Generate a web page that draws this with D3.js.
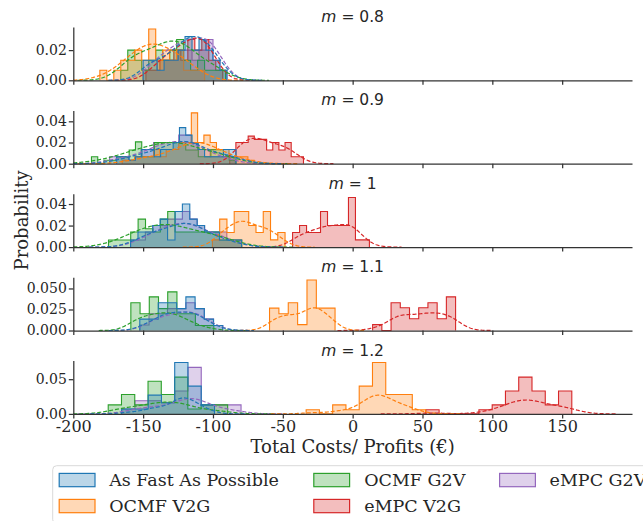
<!DOCTYPE html>
<html>
<head>
<meta charset="utf-8">
<script src="https://cdn.jsdelivr.net/npm/d3@7"></script>
<style>
  body { margin: 0; background: #fff; }
  svg { display: block; }
  text { fill: #262626; }
</style>
</head>
<body>
<div id="chart"></div>
<script>
// ---- data ----
const panelLabels = ["0.8", "0.9", "1", "1.1", "1.2"];
const seriesNames = ["As Fast As Possible", "OCMF V2G", "OCMF G2V", "eMPC V2G", "eMPC G2V"];
const seriesColors = ["#1f77b4", "#ff7f0e", "#2ca02c", "#d62728", "#9467bd"];
const xTicks = [-200, -150, -100, -50, 0, 50, 100, 150];
const yMaxes = [0.0353, 0.0503, 0.0495, 0.0634, 0.0768];
const yTicks = [[0, 0.02], [0, 0.02, 0.04], [0, 0.02, 0.04], [0, 0.025, 0.05], [0, 0.05]];
const yFormats = [".2f", ".2f", ".2f", ".3f", ".2f"];

// histogram bins per panel, series order as seriesNames: [first edge, bin width]
const binStarts = [
  [-150, -181, -166, -148, -150],
  [-169, -165, -187, -88, -174],
  [-159, -100.4, -174.8, -43, -159],
  [-152.4, -59.5, -158.8, 14.3, -152.4],
  [-165.4, -33.3, -175, 52.4, -165.4]
];
const binWidths = [
  [5, 5, 5, 5, 5],
  [4.5, 4.5, 4.5, 4.4, 4.5],
  [5.3, 5.2, 5.3, 5, 5.3],
  [6.6, 6.7, 6.6, 6.6, 6.6],
  [9.5, 9.5, 9.5, 9.5, 9.5]
];
const heightsM08 = [
  [0.0133, 0.0133, 0.0067, 0.0133, 0.0133, 0.02, 0.029, 0.02, 0.027, 0.02, 0.0133, 0.0067],
  [0.0067, 0, 0.0067, 0.0133, 0.0133, 0.02, 0.0133, 0.034, 0.0133, 0.02, 0.0133, 0.02, 0.0067, 0.0067, 0.0067],
  [0.0067, 0.02, 0.0133, 0.0067, 0.0133, 0.02, 0.0133, 0.02, 0.027, 0.0133, 0.0067, 0.0133, 0.0067, 0.0067, 0.0067],
  [0.0067, 0.0067, 0.0133, 0.0133, 0.02, 0.0133, 0.027, 0.02, 0.027, 0.0133, 0.0067],
  [0.0067, 0.0067, 0.0133, 0.0133, 0.0133, 0.02, 0.02, 0.0133, 0.02, 0.027, 0.0133, 0.0067]
];
const heightsM09 = [
  [0.0066, 0.0066, 0.0033, 0.0066, 0.0134, 0.0134, 0.0066, 0.0134, 0.0134, 0.02, 0.034, 0.027, 0.019, 0.0134, 0.0066, 0.0066, 0.0066, 0.0134, 0.0134],
  [0.0033, 0.0033, 0.0066, 0.0066, 0.0066, 0.0134, 0.0066, 0.0134, 0.0134, 0.02, 0.02, 0.048, 0.02, 0.027, 0.02, 0.0134, 0.0134, 0.0066, 0.0066, 0.0066, 0.0033],
  [0.0066, 0, 0.0033, 0.0033, 0.0066, 0.0066, 0.013, 0.0206, 0.0066, 0.0066, 0.02, 0.02, 0.02, 0.02, 0.02, 0.013, 0.013, 0.0066, 0.0066, 0.0133, 0.0133, 0.0066, 0.0033],
  [0.0066, 0.02, 0.02, 0.026, 0.023, 0.023, 0.013, 0.02, 0.013, 0.02, 0.0066, 0.0066],
  [0.0066, 0.0066, 0.0066, 0.0033, 0.0066, 0.0134, 0.0134, 0.02, 0.02, 0.02, 0.02, 0.027, 0.027, 0.02, 0.0134, 0.0134, 0.0066, 0.0066, 0.0066, 0.0033]
];
const heightsM10 = [
  [0.0066, 0.014, 0.014, 0.02, 0.026, 0.0066, 0.033, 0.04, 0.026, 0.02, 0.014, 0.014, 0.0066, 0.0066, 0.0066],
  [0.0067, 0.026, 0.0136, 0.033, 0.033, 0.02, 0.0136, 0.033, 0.0067, 0.0136],
  [0.0066, 0.0066, 0.0066, 0.014, 0.026, 0.017, 0.014, 0.026, 0.033, 0.014, 0.014, 0.014, 0.014, 0.014, 0.014, 0.0066, 0.0066, 0.0066],
  [0.0136, 0.02, 0.0136, 0.0136, 0.033, 0.02, 0.02, 0.02, 0.046, 0.0067, 0.0067],
  [0.0066, 0.0066, 0.014, 0.02, 0.02, 0.026, 0.026, 0.033, 0.026, 0.02, 0.014, 0.014, 0.014, 0.0066, 0.0066]
];
const heightsM11 = [
  [0.0135, 0.0135, 0.033, 0.033, 0.026, 0.04, 0.026, 0.0135, 0.006],
  [0.0266, 0.02, 0.033, 0.007, 0.06, 0.0266, 0.0266],
  [0.033, 0.02, 0.04, 0.026, 0.046, 0.02, 0.02, 0.006, 0.006],
  [0.007, 0, 0.033, 0.027, 0.014, 0.027, 0.033, 0.014, 0.04],
  [0.0066, 0.02, 0.02, 0.026, 0.026, 0.033, 0.026, 0.0135, 0.006]
];
const heightsM12 = [
  [0.007, 0.007, 0.027, 0.016, 0.074, 0.04, 0.013],
  [0.006, 0, 0.013, 0.006, 0.04, 0.074, 0.028, 0.028, 0.006],
  [0.013, 0.028, 0.013, 0.047, 0.028, 0.053, 0.007, 0.013, 0.013],
  [0.006, 0, 0, 0, 0.006, 0.013, 0.033, 0.053, 0.033, 0.013, 0.033],
  [0.007, 0.019, 0.019, 0.016, 0.033, 0.067, 0.013, 0.013, 0.013]
];
const panelHeights = [heightsM08, heightsM09, heightsM10, heightsM11, heightsM12];
// peak height of each density curve
const kdePeaks = [
  [0.029, 0.024, 0.026, 0.028, 0.028],
  [0.021, 0.02, 0.02, 0.024, 0.021],
  [0.022, 0.024, 0.021, 0.021, 0.022],
  [0.022, 0.027, 0.021, 0.021, 0.022],
  [0.023, 0.027, 0.017, 0.02, 0.022]
];

// ---- layout ----
const w = 643, h = 521;
const left = 73.3, right = 632;
const panelTop = 27, panelStep = 83.4, panelH = 53.3;
const bwFactor = 0.55;
const serif = "'DejaVu Serif', serif";

const svg = d3.select('#chart').append('svg')
  .attr('width', w)
  .attr('height', h);

const xScale = d3.scaleLinear().domain([-200, 200]).range([left, right]);

// gaussian kernel density built from the histogram bins
function kdeFromBins(start, width, hs, peak) {
  const centers = hs.map((v, k) => start + (k + 0.5) * width);
  const mass = hs.map(v => v * width);
  const tot = d3.sum(mass);
  const mean = d3.sum(centers.map((c, k) => c * mass[k])) / tot;
  const sd = Math.sqrt(d3.sum(centers.map((c, k) => mass[k] * (c - mean) ** 2)) / tot);
  const bw = bwFactor * sd;
  const lo = Math.max(-200, start - 3 * bw), hi = Math.min(200, start + hs.length * width + 3 * bw);
  const pts = d3.range(lo, hi, 0.5).concat([hi]).map(x => [x,
    d3.sum(centers.map((c, k) => mass[k] * Math.exp(-0.5 * ((x - c) / bw) ** 2)))]);
  const m = d3.max(pts, d => d[1]);
  return pts.map(d => [d[0], d[1] / m * peak]);
}

panelHeights.forEach((heights, i) => {
  const g = svg.append('g').attr('transform', `translate(0,${panelTop + i * panelStep})`);
  const yScale = d3.scaleLinear().domain([0, yMaxes[i]]).range([panelH, 0]);

  const area = d3.area().x(d => xScale(d[0])).y0(yScale(0)).y1(d => yScale(d[1]));
  const line = d3.line().x(d => xScale(d[0])).y(d => yScale(d[1]));

  // histograms, last series underneath
  d3.range(heights.length - 1, -1, -1).forEach(s => {
    const st = binStarts[i][s], bw = binWidths[i][s];
    const pts = [[st, 0]];
    heights[s].forEach((v, k) => {
      pts.push([st + k * bw, v]);
      pts.push([st + (k + 1) * bw, v]);
    });
    pts.push([st + heights[s].length * bw, 0]);
    g.append('path').attr('d', area(pts))
      .attr('fill', seriesColors[s]).attr('fill-opacity', 0.3).attr('stroke', 'none');
    g.append('path').attr('d', line(pts))
      .attr('fill', 'none').attr('stroke', seriesColors[s]).attr('stroke-width', 1.1);
  });

  // density lines on top
  d3.range(heights.length - 1, -1, -1).forEach(s => {
    const pts = kdeFromBins(binStarts[i][s], binWidths[i][s], heights[s], kdePeaks[i][s]);
    g.append('path').attr('d', line(pts))
      .attr('fill', 'none').attr('stroke', seriesColors[s])
      .attr('stroke-width', 1.2).attr('stroke-dasharray', '4,2');
  });

  const yAxis = d3.axisLeft(yScale).tickValues(yTicks[i])
    .tickFormat(d3.format(yFormats[i])).tickSize(4.5).tickSizeOuter(0).tickPadding(2);
  const xAxis = d3.axisBottom(xScale).tickValues(xTicks)
    .tickFormat(i === 4 ? d => String(d) : '').tickSize(4.5).tickSizeOuter(0).tickPadding(2.5);

  const ya = g.append('g').attr('transform', `translate(${left},0)`).call(yAxis);
  ya.selectAll('text').style('font-family', serif).style('font-size', '14px').attr('fill', '#262626');
  const xa = g.append('g').attr('transform', `translate(0,${panelH})`).call(xAxis);
  xa.selectAll('text').style('font-family', serif).style('font-size', '16px').attr('fill', '#262626');
  [ya, xa].forEach(a => {
    a.select('.domain').attr('stroke', '#333').attr('stroke-width', 1.25);
    a.selectAll('.tick line').attr('stroke', '#333').attr('stroke-width', 1.25);
  });

  const title = g.append('text')
    .attr('x', (left + right) / 2).attr('y', -5)
    .attr('text-anchor', 'middle')
    .style('font-family', "'DejaVu Sans', sans-serif").style('font-size', '15.5px');
  title.append('tspan').style('font-style', 'italic').text('m');
  title.append('tspan').text(' = ' + panelLabels[i]);
});

svg.append('text')
  .attr('transform', `translate(22,${panelTop + (4 * panelStep + panelH) / 2}) rotate(-90)`)
  .attr('text-anchor', 'middle').attr('dy', '0.35em')
  .style('font-family', serif).style('font-size', '18px')
  .text('Probability');

svg.append('text')
  .attr('x', (left + right) / 2).attr('y', 453)
  .attr('text-anchor', 'middle')
  .style('font-family', serif).style('font-size', '18px')
  .text('Total Costs/ Profits (€)');

// legend, 3 columns filled top to bottom
const legend = svg.append('g');
legend.append('rect')
  .attr('x', 52.7).attr('y', 465.7).attr('width', 620).attr('height', 58).attr('rx', 4)
  .attr('fill', '#fff').attr('stroke', '#d9d9d9').attr('stroke-width', 1);
const colPatch = [59.2, 313.8, 499.6];
const colText = [109.2, 364.2, 549.6];
const rowY = [480, 506];
seriesNames.forEach((name, k) => {
  const c = Math.floor(k / 2), r = k % 2;
  legend.append('rect')
    .attr('x', colPatch[c]).attr('y', rowY[r] - 6.6).attr('width', 35.8).attr('height', 13.3)
    .attr('fill', d3.color(seriesColors[k]).copy({opacity: 0.3}))
    .attr('stroke', seriesColors[k]).attr('stroke-width', 1.2);
  legend.append('text')
    .attr('x', colText[c]).attr('y', rowY[r]).attr('dy', '0.35em')
    .style('font-family', serif).style('font-size', '17.5px')
    .text(name);
});
</script>
</body>
</html>
